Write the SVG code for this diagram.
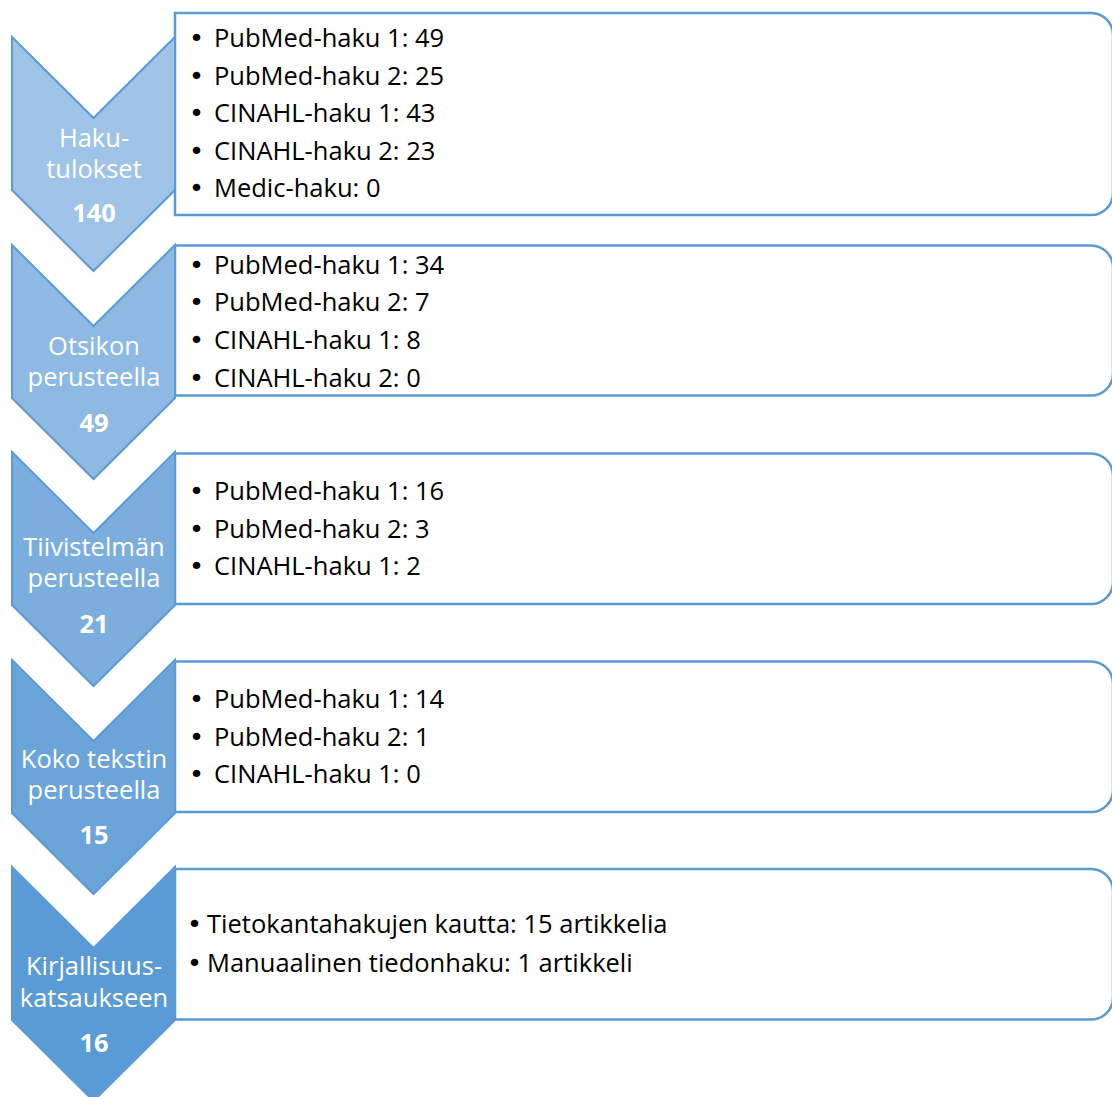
<svg xmlns="http://www.w3.org/2000/svg" width="1112" height="1097" viewBox="0 0 1112 1097">
<style>
.box{fill:#ffffff;stroke:#5B9BD5;stroke-width:2.5}
.chev{stroke:#5B9BD5;stroke-width:2;stroke-linejoin:miter}
.lbl{font-family:"Open Sans","Liberation Sans",sans-serif;font-size:25.5px;fill:#ffffff;text-anchor:middle}
.num{font-family:"Open Sans","Liberation Sans",sans-serif;font-size:25.5px;font-weight:bold;fill:#ffffff;text-anchor:middle}
.txt{font-family:"Open Sans","Liberation Sans",sans-serif;font-size:25.5px;fill:#000000}
.bul{font-family:"DejaVu Sans",sans-serif;font-size:25.5px}
</style>
<rect width="1112" height="1097" fill="#ffffff"/>
<g id="connectors"></g>

<g id="step1">
<path class="box" d="M175,13 H1091 A22,22 0 0 1 1113,35 V193 A22,22 0 0 1 1091,215 H175 Z"/>
<path class="chev" fill="#9FC4E7" d="M12,37 L93.5,118 L175,37 L175,190 L93.5,271 L12,190 Z"/>
<text class="lbl" x="94" y="147">Haku-</text>
<text class="lbl" x="94" y="178">tulokset</text>
<text class="num" x="94" y="222">140</text>
<text class="txt" y="47"><tspan class="bul" x="189">•</tspan><tspan x="214">PubMed-haku 1: 49</tspan></text>
<text class="txt" y="84.6"><tspan class="bul" x="189">•</tspan><tspan x="214">PubMed-haku 2: 25</tspan></text>
<text class="txt" y="122.2"><tspan class="bul" x="189">•</tspan><tspan x="214">CINAHL-haku 1: 43</tspan></text>
<text class="txt" y="159.8"><tspan class="bul" x="189">•</tspan><tspan x="214">CINAHL-haku 2: 23</tspan></text>
<text class="txt" y="197.4"><tspan class="bul" x="189">•</tspan><tspan x="214">Medic-haku: 0</tspan></text>
</g>

<g id="step2">
<path class="box" d="M175,245.5 H1091 A22,22 0 0 1 1113,267.5 V373.5 A22,22 0 0 1 1091,395.5 H175 Z"/>
<path class="chev" fill="#8DB9E2" d="M12,245 L93.5,326 L175,245 L175,398 L93.5,479 L12,398 Z"/>
<text class="lbl" x="94" y="355">Otsikon</text>
<text class="lbl" x="94" y="386">perusteella</text>
<text class="num" x="94" y="432">49</text>
<text class="txt" y="273.5"><tspan class="bul" x="189">•</tspan><tspan x="214">PubMed-haku 1: 34</tspan></text>
<text class="txt" y="311.3"><tspan class="bul" x="189">•</tspan><tspan x="214">PubMed-haku 2: 7</tspan></text>
<text class="txt" y="349.1"><tspan class="bul" x="189">•</tspan><tspan x="214">CINAHL-haku 1: 8</tspan></text>
<text class="txt" y="386.9"><tspan class="bul" x="189">•</tspan><tspan x="214">CINAHL-haku 2: 0</tspan></text>
</g>

<g id="step3">
<path class="box" d="M175,453.5 H1091 A22,22 0 0 1 1113,475.5 V582 A22,22 0 0 1 1091,604 H175 Z"/>
<path class="chev" fill="#7CAEDD" d="M12,452 L93.5,533 L175,452 L175,605 L93.5,686 L12,605 Z"/>
<text class="lbl" x="94" y="556">Tiivistelmän</text>
<text class="lbl" x="94" y="587">perusteella</text>
<text class="num" x="94" y="633">21</text>
<text class="txt" y="500"><tspan class="bul" x="189">•</tspan><tspan x="214">PubMed-haku 1: 16</tspan></text>
<text class="txt" y="537.5"><tspan class="bul" x="189">•</tspan><tspan x="214">PubMed-haku 2: 3</tspan></text>
<text class="txt" y="575"><tspan class="bul" x="189">•</tspan><tspan x="214">CINAHL-haku 1: 2</tspan></text>
</g>

<g id="step4">
<path class="box" d="M175,661.5 H1091 A22,22 0 0 1 1113,683.5 V790 A22,22 0 0 1 1091,812 H175 Z"/>
<path class="chev" fill="#6BA4D9" d="M12,660 L93.5,741 L175,660 L175,813 L93.5,894 L12,813 Z"/>
<text class="lbl" x="94" y="768">Koko tekstin</text>
<text class="lbl" x="94" y="799">perusteella</text>
<text class="num" x="94" y="844">15</text>
<text class="txt" y="708"><tspan class="bul" x="189">•</tspan><tspan x="214">PubMed-haku 1: 14</tspan></text>
<text class="txt" y="745.5"><tspan class="bul" x="189">•</tspan><tspan x="214">PubMed-haku 2: 1</tspan></text>
<text class="txt" y="783"><tspan class="bul" x="189">•</tspan><tspan x="214">CINAHL-haku 1: 0</tspan></text>
</g>

<g id="step5">
<path class="box" d="M175,869 H1091 A22,22 0 0 1 1113,891 V997.5 A22,22 0 0 1 1091,1019.5 H175 Z"/>
<path class="chev" fill="#5B9BD5" d="M12,867 L93.5,948 L175,867 L175,1020 L93.5,1101 L12,1020 Z"/>
<text class="lbl" x="94" y="975">Kirjallisuus-</text>
<text class="lbl" x="94" y="1007">katsaukseen</text>
<text class="num" x="94" y="1052">16</text>
<text class="txt" y="933"><tspan class="bul" x="187">•</tspan><tspan x="207">Tietokantahakujen kautta: 15 artikkelia</tspan></text>
<text class="txt" y="972"><tspan class="bul" x="187">•</tspan><tspan x="207">Manuaalinen tiedonhaku: 1 artikkeli</tspan></text>
</g>
</svg>
